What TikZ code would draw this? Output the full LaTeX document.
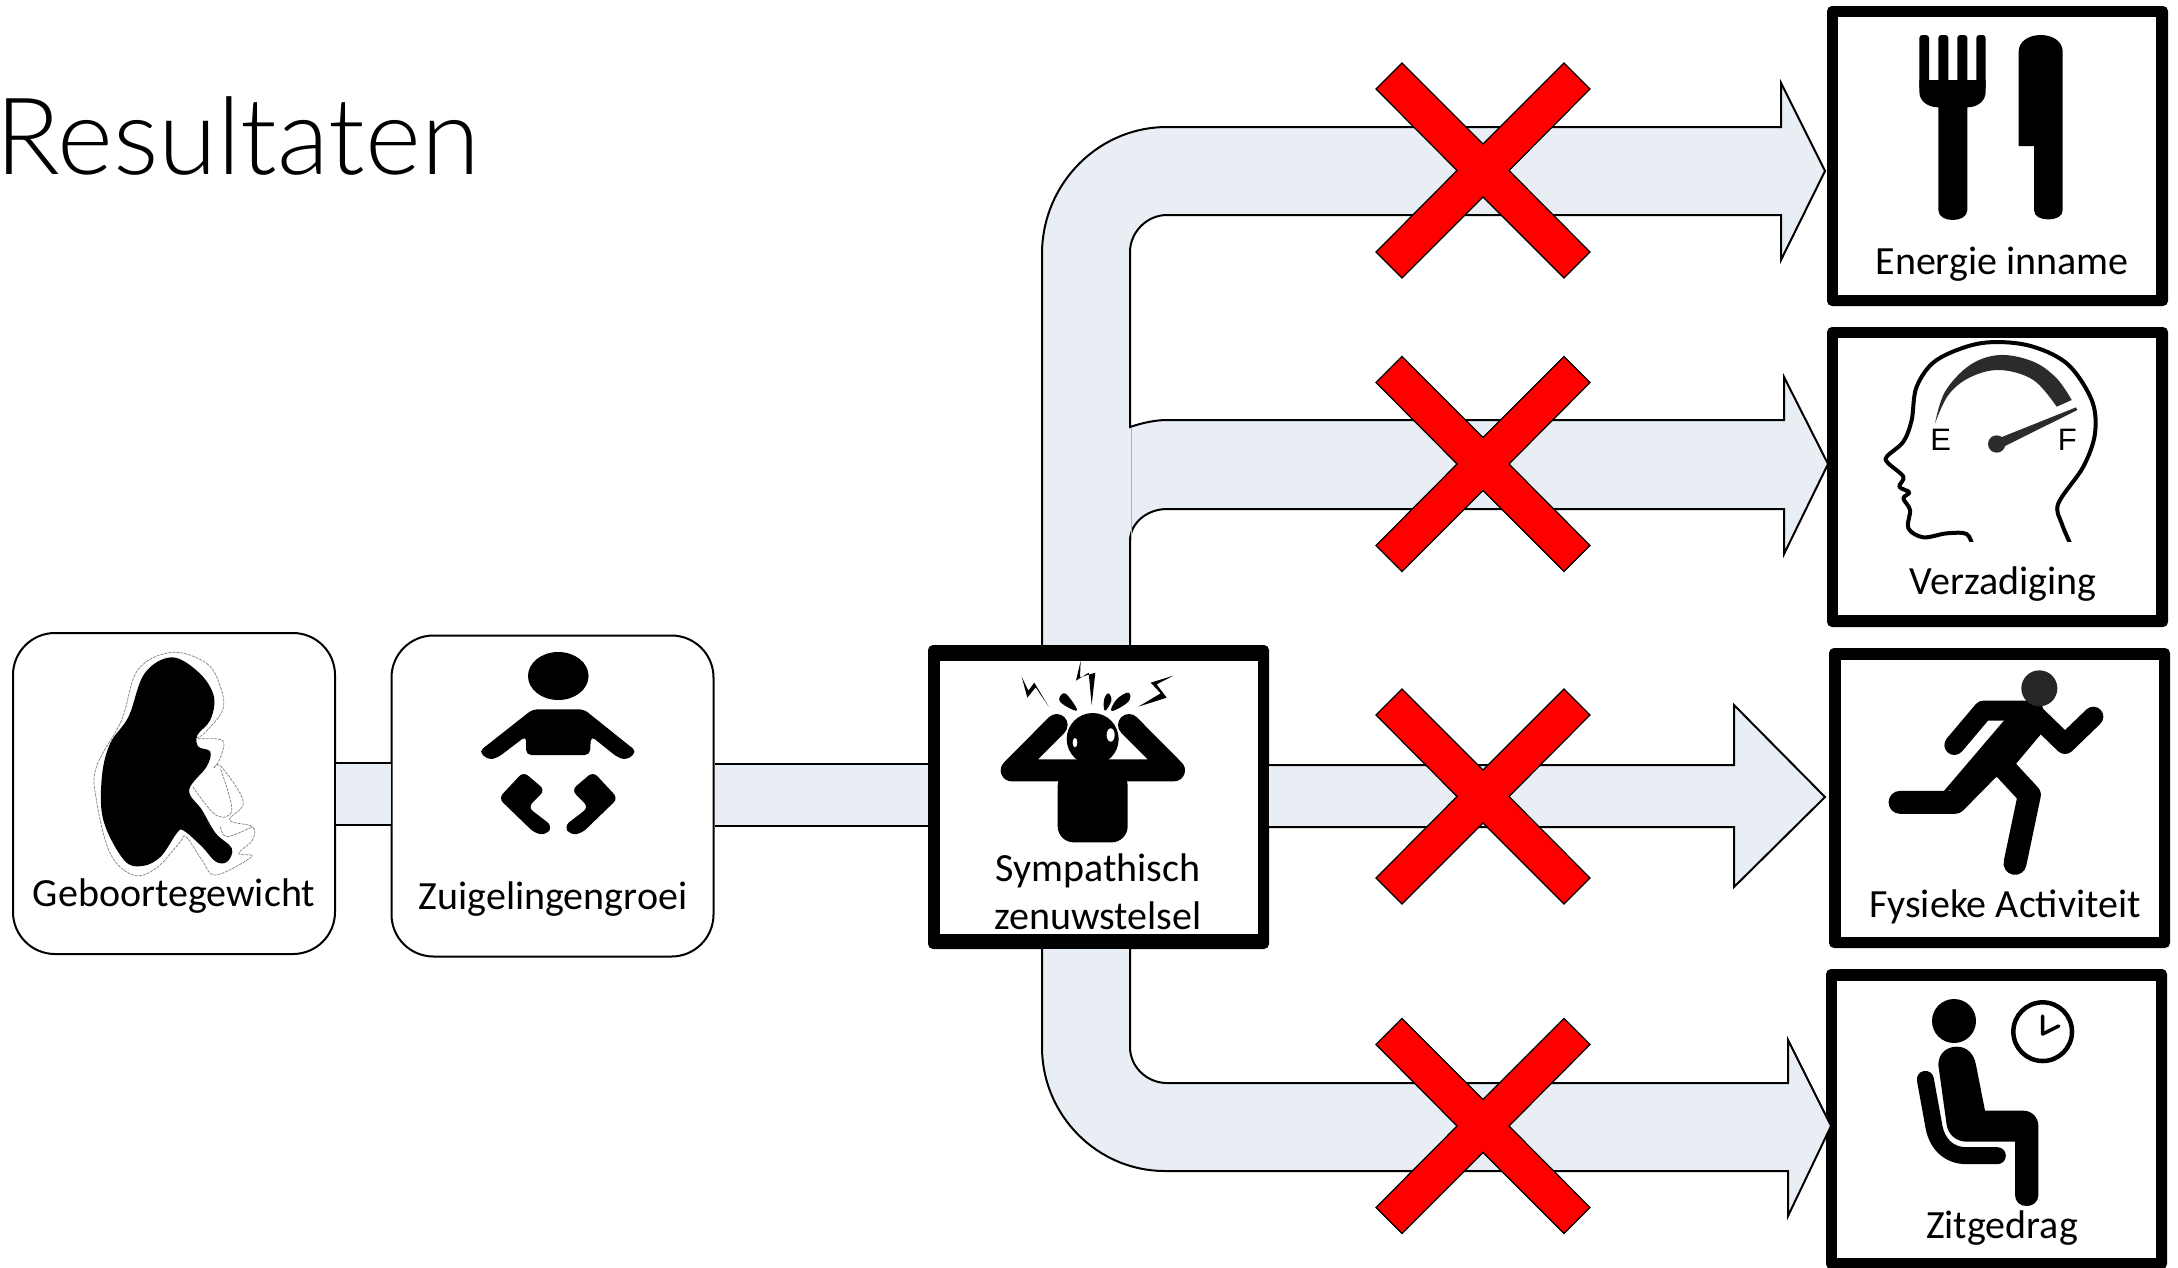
\documentclass[tikz,border=0pt]{standalone}
\usepackage{fontspec}
\setmainfont{Carlito}
\newfontfamily\titlefont{Lato Light}
\newfontfamily\gaugefont{Liberation Sans}
\usetikzlibrary{calc}
\definecolor{flow}{HTML}{E9EEF5}
\definecolor{dark}{HTML}{2B2B2B}
\tikzset{
  lab/.style={font=\fontsize{40}{44}\selectfont,anchor=base,inner sep=0pt,text=black},
  softbox/.style={draw=black,line width=2pt,rounded corners=42pt,fill=white,minimum width=322pt,minimum height=321pt,inner sep=0pt},
  hardbox/.style={fill=black,rounded corners=5pt,minimum width=341pt,minimum height=300pt,inner sep=0pt},
  flowarrow/.style={draw=black,fill=flow,line width=2pt,miter limit=10},
  cross/.style={draw=black,fill=red,line width=1.2pt},
  halo/.style={black!50,line width=0.7pt,dash pattern=on 3pt off 1pt},
  zoomed/.style={x=0.33333pt,y=-0.33333pt},
}
\newcommand{\crossat}[2]{%
  \filldraw[cross,shift={(#1,#2)}] (0,-26.5) -- (81,-107.5) -- (107,-81.5) -- (26,0) -- (107,81.5) -- (81,107.5) -- (0,26.5) -- (-81,107.5) -- (-107,81.5) -- (-26,0) -- (-107,-81.5) -- (-81,-107.5) -- cycle;}
\begin{document}
\begin{tikzpicture}[x=1pt,y=-1pt]
\useasboundingbox (0,0) rectangle (2178,1267);

% title
\node[anchor=base east,inner sep=0pt,font=\titlefont\fontsize{107}{114}\selectfont] (title) at (480,174) {Resultaten};

% boxes
\node[softbox] (geb) at (174,793.5) {};
\node[softbox] (zuig) at (552.5,796) {};
\node[hardbox,minimum height=304pt] (sns) at (1098.5,797) {};
\node[hardbox] (eat) at (1997.5,156) {};
\node[hardbox] (sat) at (1997.5,477) {};
\node[hardbox] (act) at (1999.5,798) {};
\node[hardbox] (sit) at (1996.5,1119) {};
\fill[white] (940,661) rectangle (1258,934);
\fill[white] (1838,17) rectangle (2156,295);
\fill[white] (1838,338) rectangle (2156,615);
\fill[white] (1841,660) rectangle (2159,937);
\fill[white] (1837,981) rectangle (2156,1258);

% straight connectors
\path[fill=flow] (geb.east |- 0,763) rectangle (zuig.west |- 0,825);
\draw[black,line width=2pt] (geb.east |- 0,763) -- (zuig.west |- 0,763) (geb.east |- 0,825) -- (zuig.west |- 0,825);
\path[fill=flow] (zuig.east |- 0,764) rectangle (sns.west |- 0,826);
\draw[black,line width=2pt] (zuig.east |- 0,764) -- (sns.west |- 0,764) (zuig.east |- 0,826) -- (sns.west |- 0,826);

% block arrows
\coordinate (tipA) at (1825,171);
\coordinate (tipB) at (1828,464);
\coordinate (tipC) at (1825,797);
\coordinate (tipD) at (1831,1126);
\path[flowarrow] (1042,0 |- sns.north) -- (1042,254) .. controls (1042,184) and (1098,127) .. (1167,127) -- (1781,127) -- (1781,83) -- (tipA) -- (1781,260) -- (1781,215) -- (1167,215) .. controls (1147,215) and (1130,232) .. (1130,252) -- (1130,427) .. controls (1142,423) and (1155,420) .. (1167,420) -- (1784,420) -- (1784,377) -- (tipB) -- (1784,554) -- (1784,509) -- (1167,509) .. controls (1147,509) and (1130,523) .. (1130,541) -- (1130,0 |- sns.north);
\draw[black!30,line width=1pt] (1131,428) -- (1131,540);
\path[flowarrow] (sns.east |- 0,765) -- (1734,765) -- (1734,705) -- (tipC) -- (1734,887) -- (1734,827) -- (sns.east |- 0,827);
\path[flowarrow] (1130,0 |- sns.south) -- (1130,1047) .. controls (1130,1067) and (1147,1083) .. (1167,1083) -- (1788,1083) -- (1788,1040) -- (tipD) -- (1788,1216) -- (1788,1171) -- (1165,1171) .. controls (1097,1171) and (1042,1115) .. (1042,1047) -- (1042,0 |- sns.south);

% red crosses
\crossat{1483}{170.5}
\crossat{1483}{464}
\crossat{1483}{796.5}
\crossat{1483}{1126}

% fetus icon
\begin{scope}[shift={(0,620)},x=0.4591pt,y=-0.33333pt]
\draw[halo] plot[smooth cycle,tension=0.6] coordinates {(375,97) (450,130) (480,200) (485,270) (445,340) (430,355) (485,362) (478,420) (465,445) (482,440) (530,545) (500,600) (550,620) (550,660) (520,700) (548,710) (470,765) (440,720) (405,650) (390,670) (340,745) (290,765) (240,700) (210,540) (210,440) (265,300) (300,150)};
\fill[black] plot[smooth cycle,tension=0.6] coordinates {(375,112) (435,160) (466,230) (458,300) (430,345) (432,380) (458,395) (450,440) (412,510) (440,570) (470,640) (505,685) (495,725) (470,725) (440,680) (400,632) (385,640) (350,710) (310,738) (270,720) (225,600) (222,470) (240,370) (280,290) (315,160)};
\draw[halo] plot[smooth,tension=0.6] coordinates {(420,500) (470,585) (505,570) (480,445)};
\draw[halo] plot[smooth,tension=0.6] coordinates {(480,620) (495,650) (550,620)};
\end{scope}

% baby icon
\begin{scope}[shift={(0,620)},x=0.4591pt,y=-0.33333pt]
\fill[black] (1216,168) circle[x radius=66,y radius=72];
\fill[black,rounded corners=5pt] (1160,268) -- (1272,268) -- (1387,395) -- (1365,420) -- (1345,412) -- (1287,348) -- (1285,405) -- (1146,405) -- (1146,348) -- (1085,412) -- (1065,420) -- (1043,395) -- cycle;
\fill[black,rounded corners=6pt] (1140,455) -- (1187,510) -- (1150,562) -- (1203,618) -- (1190,645) -- (1165,640) -- (1086,535) -- cycle;
\fill[black,rounded corners=6pt] (1292,455) -- (1245,510) -- (1282,562) -- (1229,618) -- (1242,645) -- (1267,640) -- (1346,535) -- cycle;
\end{scope}

% stressed person icon
\begin{scope}[shift={(920,630)},zoomed]
\fill[black,rounded corners=16pt] (413,420) -- (413,637) -- (623,637) -- (623,420) -- cycle;
\draw[black,line width=22pt,line cap=round,line join=round] (410,285) -- (275,421) -- (762,421) -- (627,285);
\fill[black] (518,327) circle[radius=78];
\fill[white] (572,315) ellipse[x radius=12,y radius=20];
\fill[white] (465,338) ellipse[x radius=7,y radius=14];
\fill[black] plot[smooth cycle,tension=0.7] coordinates {(470,242) (420,215) (430,190) (450,205)};
\fill[black] plot[smooth cycle,tension=0.7] coordinates {(555,242) (552,210) (565,190) (574,212)};
\fill[black] plot[smooth cycle,tension=0.7] coordinates {(575,243) (590,208) (625,188) (625,215)};
\fill[black] (305,140) -- (325,182) -- (343,158) -- (386,230) -- (347,172) -- (322,203) -- cycle;
\fill[black] (482,92) -- (468,152) -- (506,128) -- (515,225) -- (526,128) -- (480,142) -- cycle;
\fill[black] (760,137) -- (692,158) -- (722,190) -- (655,230) -- (740,203) -- (710,163) -- cycle;
\end{scope}

% cutlery icon
\begin{scope}[shift={(1820,0)},zoomed]
\fill[black,rounded corners=3pt] (298,105) rectangle (327,270);
\fill[black,rounded corners=3pt] (355,105) rectangle (385,270);
\fill[black,rounded corners=3pt] (412,105) rectangle (442,270);
\fill[black,rounded corners=3pt] (469,105) rectangle (497,270);
\fill[black] (298,240) -- (497,240) -- (497,275) .. controls (497,305) and (470,322) .. (442,322) -- (442,630) .. controls (442,650) and (420,660) .. (398,660) .. controls (376,660) and (355,650) .. (355,630) -- (355,322) .. controls (325,322) and (298,305) .. (298,275) -- cycle;
\fill[black] (596,155) .. controls (596,125) and (625,105) .. (662,105) .. controls (699,105) and (728,125) .. (728,155) -- (728,630) .. controls (728,650) and (708,658) .. (685,658) .. controls (662,658) and (642,650) .. (642,630) -- (642,438) -- (596,438) -- cycle;
\end{scope}

% head with gauge icon
\begin{scope}[shift={(1820,320)},zoomed]
\begin{scope}
\clip (150,40) rectangle (900,665);
\draw[black,line width=4pt,line join=round] plot[smooth,tension=0.55] coordinates {(458,680) (440,642) (380,640) (310,652) (265,625) (270,570) (250,535) (268,517) (238,500) (250,470) (205,430) (200,410) (250,365) (275,300) (290,200) (350,120) (480,70) (620,75) (740,130) (815,240) (825,340) (790,440) (715,550) (725,610) (755,680)};
\end{scope}
\fill[dark] plot[smooth,tension=0.6] coordinates {(345,310) (375,215) (450,135) (540,105) (640,125) (710,175) (755,240)} -- plot[smooth,tension=0.6] coordinates {(710,260) (640,180) (540,150) (450,172) (385,225) (345,310)} -- cycle;
\fill[dark] (530,372) circle[radius=26];
\fill[dark] (528,358) -- (768,262) -- (772,270) -- (535,388) -- cycle;
\node[anchor=base,inner sep=0pt,font=\gaugefont\fontsize{31}{33}\selectfont] (gaugeE) at (362,392) {E};
\node[anchor=base,inner sep=0pt,font=\gaugefont\fontsize{31}{33}\selectfont] (gaugeF) at (742,392) {F};
\end{scope}

% runner icon
\begin{scope}[shift={(1820,640)},zoomed]
\draw[black,line width=20pt,line cap=round,line join=round] (640,212) -- (490,212) -- (403,315);
\draw[black,line width=20pt,line cap=round,line join=round] (630,210) -- (735,312) -- (820,230);
\draw[black,line width=23pt,line cap=round,line join=round] (240,487) -- (405,487) -- (540,350);
\draw[black,line width=23pt,line cap=round,line join=round] (540,370) -- (628,465) -- (585,670);
\fill[black] (555,238) -- (630,185) -- (690,250) -- (585,375) -- (500,430) -- (370,455) -- cycle;
\fill[black!85!white] (658,145) circle[radius=54];
\end{scope}

% sitting person icon
\begin{scope}[shift={(1820,960)},zoomed]
\fill[black] (402,183) circle[radius=66];
\fill[black] (355,315) .. controls (355,280) and (380,260) .. (410,260) .. controls (440,260) and (462,280) .. (468,315) -- (495,452) -- (610,452) .. controls (635,452) and (655,472) .. (655,497) -- (655,705) .. controls (655,725) and (640,738) .. (620,738) .. controls (600,738) and (585,725) .. (585,705) -- (585,545) -- (440,545) .. controls (410,545) and (385,525) .. (380,495) -- cycle;
\draw[black,line width=17pt,line cap=round] (316,358) -- (340,490) .. controls (348,550) and (385,587) .. (440,587) -- (532,587);
\draw[black,line width=4.5pt] (668,215) circle[radius=88];
\draw[black,line width=3.5pt,line cap=round,line join=round] (668,168) -- (668,222) -- (716,198);
\end{scope}

% labels
\node[lab] (tgeb) at (174,906.5) {Geboortegewicht};
\node[lab] (tzuig) at (553,909.5) {Zuigelingengroei};
\node[lab] (tsns1) at (1098,881.5) {Sympathisch};
\node[lab] (tsns2) at (1098,929.5) {zenuwstelsel};
\node[lab] (teat) at (2002,274.5) {Energie inname};
\node[lab] (tsat) at (2003,594.5) {Verzadiging};
\node[lab] (tact) at (2005,917.5) {Fysieke Activiteit};
\node[lab] (tsit) at (2002,1238.5) {Zitgedrag};
\end{tikzpicture}
\end{document}
